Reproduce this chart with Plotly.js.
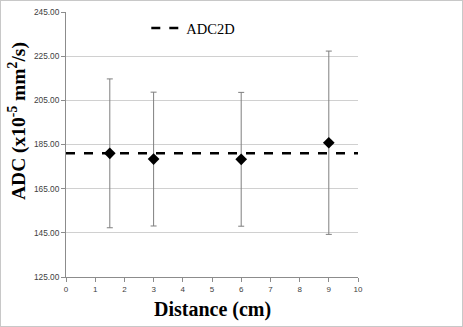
<!DOCTYPE html>
<html><head><meta charset="utf-8">
<script src="https://cdn.plot.ly/plotly-3.0.1.min.js"></script>
<style>
html,body{margin:0;padding:0;background:#fff;}
#wrap{position:absolute;left:0;top:0;width:461px;height:325px;border:1px solid #c8c8c8;}
#chart{position:absolute;left:0;top:0;width:463px;height:327px;}
</style></head>
<body>
<div id="chart"></div>
<div id="wrap"></div>
<script>
const distances = [1.5, 3, 6, 9];
const adcValues = [181.0, 178.4, 178.3, 185.8];
const adcErrors = [33.7, 30.3, 30.3, 41.5];
const adc2dX = [0, 10];
const adc2dY = [181.0, 181.0];
const yTicks = [125, 145, 165, 185, 205, 225, 245];
const xTicks = [0,1,2,3,4,5,6,7,8,9,10];

const traces = [
  {x: distances, y: adcValues, type:'scatter', mode:'markers', showlegend:false,
   marker:{symbol:'diamond', size:9, color:'#000'},
   error_y:{type:'data', array:adcErrors, visible:true, color:'#7f7f7f', thickness:1, width:3}},
  {x: adc2dX, y: adc2dY, type:'scatter', mode:'lines', name:'ADC2D',
   line:{color:'#000', width:2.5, dash:'dash'}}
];
const layout = {
  width:463, height:327,
  margin:{l:66, r:105, t:12, b:50},
  paper_bgcolor:'rgba(0,0,0,0)', plot_bgcolor:'#fff',
  showlegend:true,
  legend:{x:0.275, y:1.0, xanchor:'left', yanchor:'top', bgcolor:'rgba(0,0,0,0)',
    font:{family:'Liberation Serif', size:14.5, color:'#000'}, itemwidth:30},
  xaxis:{range:[0,10], tickvals:xTicks, ticktext:xTicks.map(String), showgrid:false, zeroline:false,
    showline:true, linecolor:'#8c8c8c', linewidth:1, ticks:'outside', ticklen:4, tickcolor:'#8c8c8c',
    tickfont:{family:'Liberation Sans', size:8, color:'#404040'}},
  yaxis:{range:[125,245], tickvals:yTicks, ticktext:yTicks.map(v=>v.toFixed(2)), showgrid:true, gridcolor:'#d0d0d0', gridwidth:1,
    zeroline:false, showline:true, linecolor:'#8c8c8c', linewidth:1, ticks:'outside', ticklen:4, tickcolor:'#8c8c8c',
    tickfont:{family:'Liberation Sans', size:8.3, color:'#404040'}},
  annotations:[
    {text:'Distance (cm)', xref:'paper', yref:'paper', x:0.5, y:-0.121, xanchor:'center', yanchor:'middle',
     showarrow:false, font:{family:'Liberation Serif', size:20, color:'#000', weight:'bold'}},
    {text:'ADC (x10<sup>-5</sup> mm<sup>2</sup>/s)', xref:'paper', yref:'paper', x:-0.164, y:0.589, xanchor:'center', yanchor:'middle',
     textangle:-90, showarrow:false, font:{family:'Liberation Serif', size:19.5, color:'#000', weight:'bold'}}
  ]
};
Plotly.newPlot('chart', traces, layout, {displayModeBar:false, staticPlot:true});
</script>
</body></html>
